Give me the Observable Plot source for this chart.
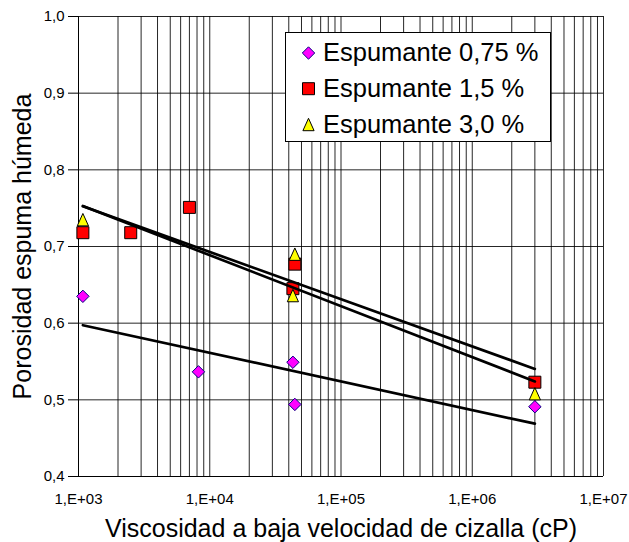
<!DOCTYPE html>
<html>
<head>
<meta charset="utf-8">
<script src="https://cdn.jsdelivr.net/npm/d3@7"></script>
<script src="https://cdn.jsdelivr.net/npm/@observablehq/plot@0.6"></script>
<style>
html, body { margin: 0; padding: 0; background: #fff; }
#wrap { position: relative; width: 629px; height: 542px; }
#wrap > svg { display: block; }
.overlay { position: absolute; left: 0; top: 0; pointer-events: none; }
</style>
</head>
<body>
<div id="wrap"></div>
<script>
const FONT = "'Liberation Sans', Arial, Helvetica, sans-serif";

// ---- data ----
const seriesNames = ["Espumante 0,75 %", "Espumante 1,5 %", "Espumante 3,0 %"];
const visc075 = [1080, 8200, 43000, 44500, 3000000];
const poro075 = [0.635, 0.5365, 0.549, 0.494, 0.491];
const visc15  = [1080, 2500, 7000, 43000, 44500, 3000000];
const poro15  = [0.718, 0.718, 0.751, 0.645, 0.677, 0.523];
const visc30  = [1080, 43000, 44500, 3000000];
const poro30  = [0.735, 0.636, 0.690, 0.508];

const xTicks = [1e3, 1e4, 1e5, 1e6, 1e7];
const xTickLabels = ["1,E+03", "1,E+04", "1,E+05", "1,E+06", "1,E+07"];
const yTicks = [0.4, 0.5, 0.6, 0.7, 0.8, 0.9, 1.0];
const yTickLabels = ["0,4", "0,5", "0,6", "0,7", "0,8", "0,9", "1,0"];
const decades = [1e3, 1e4, 1e5, 1e6];
const minorSteps = [1, 2, 3, 4, 5, 6, 7, 8, 9];

const xTitle = "Viscosidad a baja velocidad de cizalla (cP)";
const yTitle = "Porosidad espuma húmeda";

// ---- derived tables ----
const toRows = (xs, ys, s) => xs.map((x, i) => ({x, y: ys[i], s}));
const pts075 = toRows(visc075, poro075, seriesNames[0]);
const pts15 = toRows(visc15, poro15, seriesNames[1]);
const pts30 = toRows(visc30, poro30, seriesNames[2]);

// logarithmic trend (as a spreadsheet "log" trendline): y = a + b*log10(x)
function logTrend(xs, ys, s) {
  const lx = xs.map(Math.log10);
  const mx = d3.mean(lx), my = d3.mean(ys);
  const b = d3.sum(lx, (v, i) => (v - mx) * (ys[i] - my)) / d3.sum(lx, v => (v - mx) ** 2);
  const a = my - b * mx;
  return d3.extent(xs).map(x => ({x, y: a + b * Math.log10(x), s}));
}
const trends = [
  ...logTrend(visc075, poro075, seriesNames[0]),
  ...logTrend(visc15, poro15, seriesNames[1]),
  ...logTrend(visc30, poro30, seriesNames[2])
];

const gridX = [...decades.flatMap(d => minorSteps.map(k => k * d)), xTicks[xTicks.length - 1]];

// ---- marker shapes ----
const diamondSym = {draw(c) { const h = 6.2; c.moveTo(0, -h); c.lineTo(h, 0); c.lineTo(0, h); c.lineTo(-h, 0); c.closePath(); }};
const squareSym = {draw(c) { const h = 6; c.moveTo(-h, -h); c.lineTo(h, -h); c.lineTo(h, h); c.lineTo(-h, h); c.closePath(); }};
const triangleSym = {draw(c) { const w = 5.6, h = 6.2; c.moveTo(0, -h); c.lineTo(w, h); c.lineTo(-w, h); c.closePath(); }};

const styles = [
  {sym: diamondSym, fill: "#FF00FF", stroke: "#000080"},
  {sym: squareSym, fill: "#FF0000", stroke: "#000000"},
  {sym: triangleSym, fill: "#FFFF00", stroke: "#000000"}
];

const chart = Plot.plot({
  width: 629,
  height: 542,
  marginLeft: 78,
  marginRight: 26,
  marginTop: 16,
  marginBottom: 66,
  style: {fontFamily: FONT, fontSize: "15px", color: "#000", background: "#fff", overflow: "visible"},
  x: {type: "log", domain: [xTicks[0], xTicks[xTicks.length - 1]]},
  y: {domain: [yTicks[0], yTicks[yTicks.length - 1]]},
  marks: [
    Plot.ruleX(gridX, {stroke: "#000", strokeWidth: 1, strokeOpacity: 0.85}),
    Plot.ruleY(yTicks, {stroke: "#000", strokeWidth: 1, strokeOpacity: 0.85}),
    Plot.ruleX([xTicks[0]], {stroke: "#000", strokeWidth: 1}),
    Plot.ruleY([yTicks[0]], {stroke: "#000", strokeWidth: 1}),
    Plot.axisY(yTicks, {
      tickFormat: d => yTickLabels[yTicks.findIndex(t => Math.abs(t - d) < 1e-9)],
      tickSize: 10, tickPadding: 4, fontSize: 15, label: null, stroke: "#000"
    }),
    Plot.axisX(xTicks, {
      tickFormat: d => xTickLabels[xTicks.indexOf(d)],
      tickSize: 0, tickPadding: 17, fontSize: 15, label: null
    }),
    Plot.dot(pts075, {x: "x", y: "y", symbol: styles[0].sym, fill: styles[0].fill, stroke: styles[0].stroke, strokeWidth: 1, r: 5}),
    Plot.dot(pts15, {x: "x", y: "y", symbol: styles[1].sym, fill: styles[1].fill, stroke: styles[1].stroke, strokeWidth: 1, r: 5}),
    Plot.dot(pts30, {x: "x", y: "y", symbol: styles[2].sym, fill: styles[2].fill, stroke: styles[2].stroke, strokeWidth: 1, r: 5}),
    Plot.line(trends, {x: "x", y: "y", z: "s", stroke: "#000", strokeWidth: 2.7}),
    Plot.text([xTitle], {text: d => d, frameAnchor: "bottom", dy: 52, lineAnchor: "middle", textAnchor: "middle", fontSize: 25, fill: "#000"}),
    Plot.text([yTitle], {text: d => d, frameAnchor: "left", rotate: -90, dx: -56, lineAnchor: "middle", textAnchor: "middle", fontSize: 25, fill: "#000"})
  ]
});

const wrap = document.getElementById("wrap");
wrap.appendChild(chart);

// ---- legend overlay ----
const leg = d3.create("svg")
  .attr("class", "overlay")
  .attr("width", 629).attr("height", 542)
  .style("font-family", FONT);
leg.append("rect")
  .attr("x", 285.5).attr("y", 32.5).attr("width", 265).attr("height", 109)
  .attr("fill", "#fff").attr("stroke", "#000").attr("stroke-width", 1);
const rowY = [53, 88.7, 124.5];
seriesNames.forEach((name, i) => {
  const p = d3.path();
  styles[i].sym.draw(p);
  leg.append("path")
    .attr("d", p.toString())
    .attr("transform", `translate(308.5,${rowY[i]})`)
    .attr("fill", styles[i].fill).attr("stroke", styles[i].stroke).attr("stroke-width", 1);
  leg.append("text")
    .attr("x", 323).attr("y", rowY[i] + 8.2)
    .attr("font-size", 25.5).attr("fill", "#000")
    .text(name);
});
wrap.appendChild(leg.node());
</script>
</body>
</html>
